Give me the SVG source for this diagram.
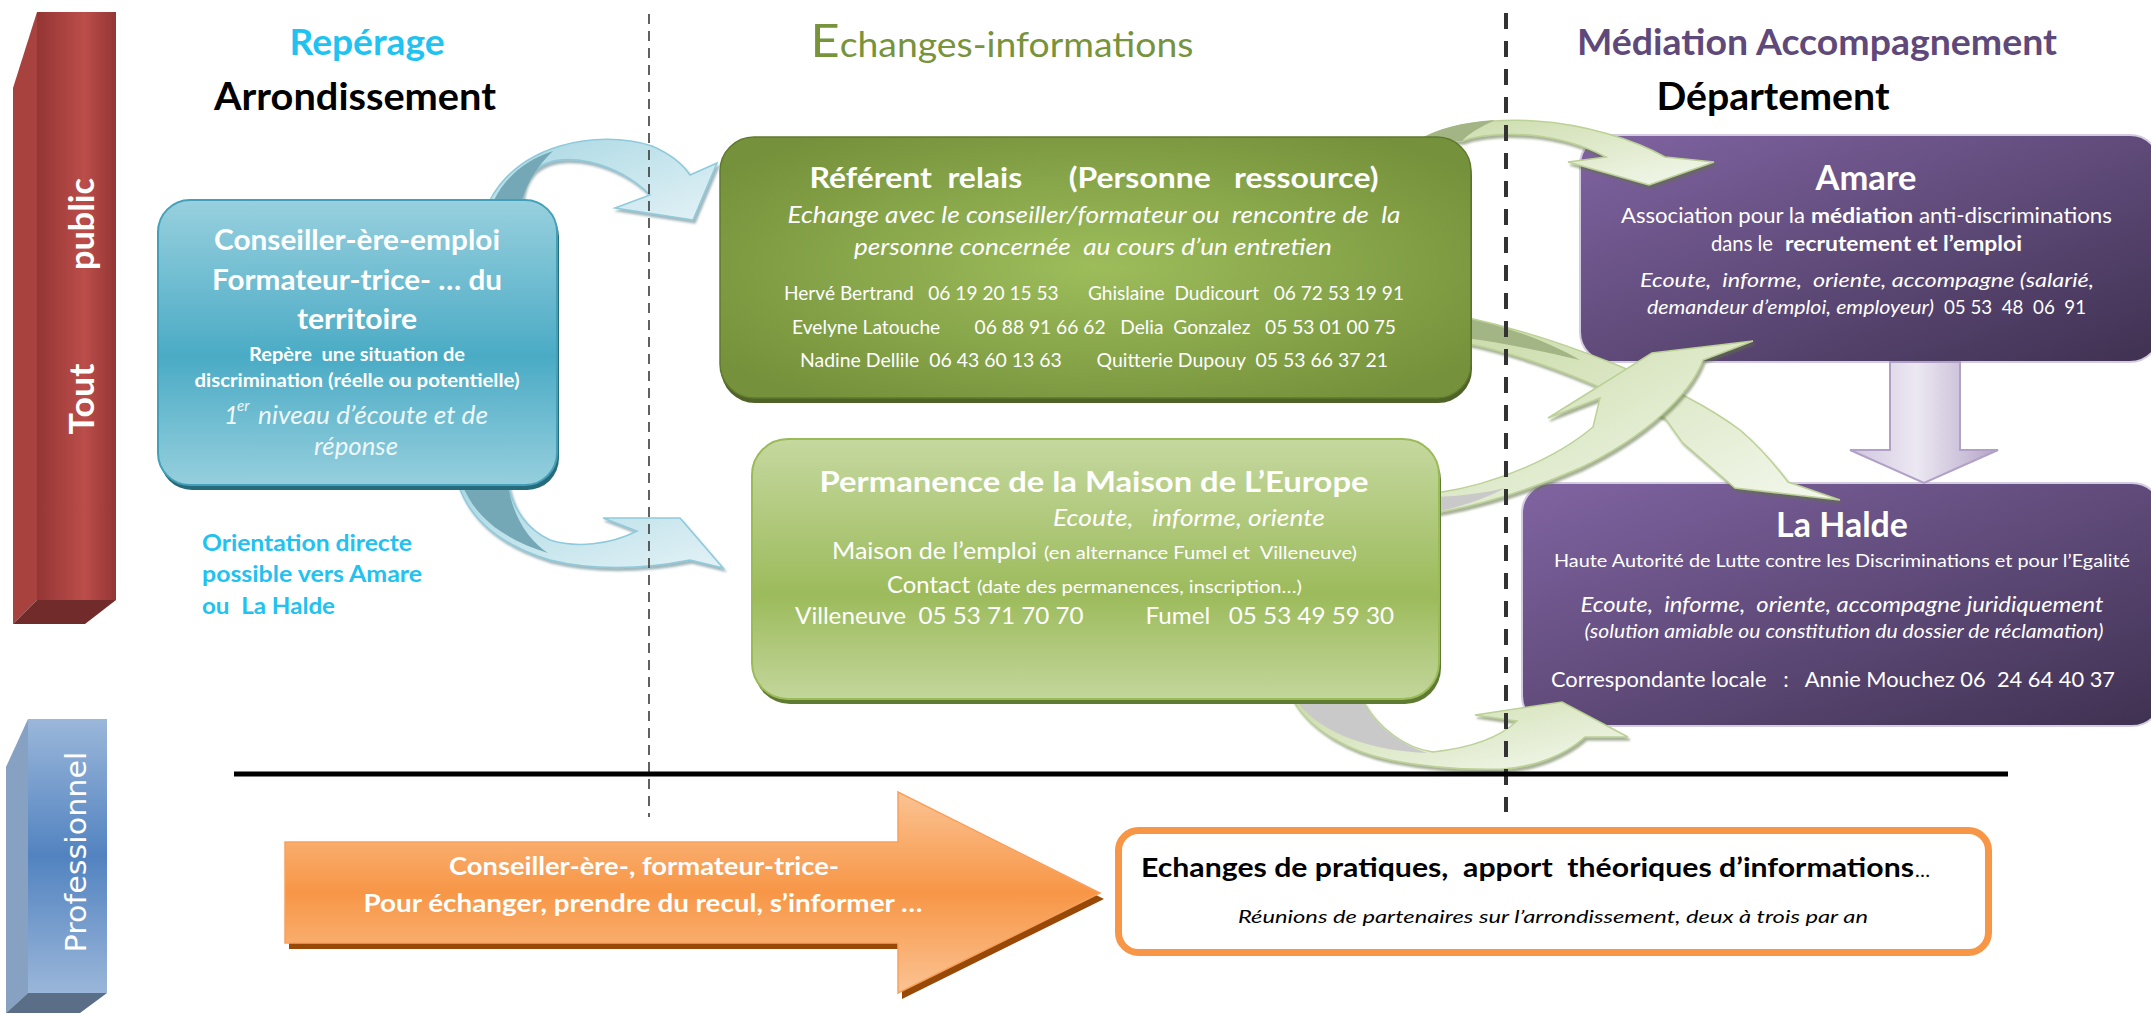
<svg xmlns="http://www.w3.org/2000/svg" width="2151" height="1014" viewBox="0 0 2151 1014">
<style>
text{font-family:Lato,"Liberation Sans",sans-serif;white-space:pre}
.b{font-weight:700}
.i{font-style:italic}
.m{text-anchor:middle}
.w{fill:#fff}
.ga{fill:url(#gGreenArrow);stroke:#bcd196;stroke-width:1.5;filter:url(#ash)}
.ca{fill:url(#gCyanArrow);stroke:#8ecadb;stroke-width:1.5;filter:url(#csh)}
.gp{fill:#a3b585}
.gy{fill:#c9c9c9}
.cp{fill:#74a8b6}
.pb{fill:url(#gPurple);stroke:#d3cbe0;stroke-width:2}
</style>
<defs>
<linearGradient id="gCyanBox" x1="0" y1="0" x2="0" y2="1"><stop offset="0" stop-color="#98d0de"/><stop offset="0.55" stop-color="#4aabc5"/><stop offset="1" stop-color="#96cfdd"/></linearGradient>
<radialGradient id="gDarkGreen" cx="0.5" cy="0.5" r="0.62"><stop offset="0" stop-color="#9dbd5b"/><stop offset="1" stop-color="#75913b"/></radialGradient>
<linearGradient id="gLightGreen" x1="0" y1="0" x2="0" y2="1"><stop offset="0" stop-color="#c5d89f"/><stop offset="0.6" stop-color="#9cbb5b"/><stop offset="1" stop-color="#c3d69b"/></linearGradient>
<linearGradient id="gPurple" x1="0" y1="0" x2="1" y2="1"><stop offset="0" stop-color="#8064a2"/><stop offset="1" stop-color="#3f3151"/></linearGradient>
<linearGradient id="gOrange" x1="0" y1="0" x2="0" y2="1"><stop offset="0" stop-color="#fbc393"/><stop offset="0.5" stop-color="#f79646"/><stop offset="1" stop-color="#fbc393"/></linearGradient>
<linearGradient id="gRedFront" x1="0" y1="0" x2="1" y2="0"><stop offset="0" stop-color="#943634"/><stop offset="0.6" stop-color="#bb4d4a"/><stop offset="1" stop-color="#943634"/></linearGradient>
<linearGradient id="gBlueFront" x1="0" y1="0" x2="0" y2="1"><stop offset="0" stop-color="#9bb7da"/><stop offset="0.5" stop-color="#5283c0"/><stop offset="1" stop-color="#9ab6d9"/></linearGradient>
<linearGradient id="gGreenArrow" x1="0" y1="0" x2="1" y2="1"><stop offset="0" stop-color="#cadba8"/><stop offset="1" stop-color="#f4f8ee"/></linearGradient>
<linearGradient id="gCyanArrow" x1="0" y1="0" x2="1" y2="1"><stop offset="0" stop-color="#a8d7e3"/><stop offset="1" stop-color="#e3f2f6"/></linearGradient>
<linearGradient id="gLilac" x1="0" y1="0" x2="1" y2="0"><stop offset="0" stop-color="#cfc5de"/><stop offset="0.45" stop-color="#ece8f2"/><stop offset="1" stop-color="#b4a4c8"/></linearGradient>
<filter id="ash" x="-10%" y="-10%" width="125%" height="135%"><feDropShadow dx="2" dy="3" stdDeviation="1" flood-color="#5f6f45" flood-opacity="0.55"/></filter>
<filter id="csh" x="-10%" y="-10%" width="125%" height="135%"><feDropShadow dx="2" dy="3" stdDeviation="1" flood-color="#3f6f7c" flood-opacity="0.5"/></filter>
</defs>

<g id="bar-tout-public">
<polygon points="13,88 37,12 37,600 13,624" fill="#a7423f"/>
<rect x="37" y="12" width="79" height="588" fill="url(#gRedFront)"/>
<polygon points="13,624 85,624 116,600 37,600" fill="#702b2a"/>
<text transform="translate(94,399) rotate(-90)" class="b m w" font-size="34" textLength="71" lengthAdjust="spacingAndGlyphs">Tout</text>
<text transform="translate(94,224) rotate(-90)" class="b m w" font-size="34" textLength="92" lengthAdjust="spacingAndGlyphs">public</text>
</g>

<g id="bar-professionnel">
<polygon points="6,767 28,719 28,993 6,1013" fill="#86a1c1"/>
<rect x="28" y="719" width="79" height="274" fill="url(#gBlueFront)"/>
<polygon points="6,1013 80,1013 107,993 28,993" fill="#5b6e87"/>
<text transform="translate(86,852) rotate(-90)" class="m w" style="font-family:'DejaVu Sans',sans-serif" font-size="29" textLength="201" lengthAdjust="spacingAndGlyphs">Professionnel</text>
</g>

<g id="headers">
<text x="367" y="55" class="b m" fill="#1fc3f1" font-size="36" textLength="155" lengthAdjust="spacingAndGlyphs">Repérage</text>
<text x="355" y="110" class="b m" fill="#000" font-size="38" textLength="282" lengthAdjust="spacingAndGlyphs">Arrondissement</text>
<text x="1002" y="57" class="m" fill="#77933c" font-size="34" textLength="383" lengthAdjust="spacingAndGlyphs"><tspan font-size="46">E</tspan>changes-informations</text>
<text x="1817" y="55" class="b m" fill="#5f497a" font-size="36" textLength="480" lengthAdjust="spacingAndGlyphs">Médiation Accompagnement</text>
<text x="1773" y="110" class="b m" fill="#000" font-size="38" textLength="233" lengthAdjust="spacingAndGlyphs">Département</text>
</g>

<g id="node-amare">
<rect x="1580" y="135" width="580" height="227" rx="30" class="pb"/>
<text x="1866" y="190" class="b m w" font-size="34" textLength="101" lengthAdjust="spacingAndGlyphs">Amare</text>
<text x="1621" y="223" class="w" font-size="21" textLength="184" lengthAdjust="spacingAndGlyphs">Association pour la</text>
<text x="1811" y="223" class="w b" font-size="21" textLength="102" lengthAdjust="spacingAndGlyphs">médiation</text>
<text x="1919" y="223" class="w" font-size="21" textLength="193" lengthAdjust="spacingAndGlyphs">anti-discriminations</text>
<text x="1711" y="251" class="w" font-size="21" textLength="62" lengthAdjust="spacingAndGlyphs">dans le</text>
<text x="1785" y="251" class="w b" font-size="21" textLength="237" lengthAdjust="spacingAndGlyphs">recrutement et l’emploi</text>
<text x="1640" y="287" class="w i" font-size="20" textLength="454" lengthAdjust="spacingAndGlyphs">Ecoute,  informe,  oriente, accompagne (salarié,</text>
<text x="1647" y="314" class="w i" font-size="20" textLength="287" lengthAdjust="spacingAndGlyphs">demandeur d’emploi, employeur)</text>
<text x="1944" y="314" class="w" font-size="20" textLength="142" lengthAdjust="spacingAndGlyphs">05 53  48  06  91</text>
</g>

<g id="node-la-halde">
<rect x="1522" y="483" width="640" height="243" rx="30" class="pb"/>
<text x="1842" y="537" class="b m w" font-size="34" textLength="132" lengthAdjust="spacingAndGlyphs">La Halde</text>
<text x="1842" y="567" class="m w" font-size="18" textLength="576" lengthAdjust="spacingAndGlyphs">Haute Autorité de Lutte contre les Discriminations et pour l’Egalité</text>
<text x="1842" y="612" class="m w i" font-size="22" textLength="523" lengthAdjust="spacingAndGlyphs">Ecoute,  informe,  oriente, accompagne juridiquement</text>
<text x="1844" y="638" class="m w i" font-size="19" textLength="519" lengthAdjust="spacingAndGlyphs">(solution amiable ou constitution du dossier de réclamation)</text>
<text x="1551" y="687" class="w" font-size="22" textLength="564" lengthAdjust="spacingAndGlyphs">Correspondante locale   :   Annie Mouchez 06  24 64 40 37</text>
</g>

<g id="connectors">
<g id="arrow-conseiller-referent">
<path class="ca" d="M490,200 C505,172 530,155 560,146 C590,137 625,137 652,146 C668,153 682,163 690,175 L717,163 L693,220 L615,208 L650,195 C635,180 615,168 590,162 C565,157 545,160 533,172 C526,180 523,190 522,200 Z"/>
<path class="cp" d="M494,200 C505,178 525,160 553,151 C540,163 528,180 522,200 Z"/>
</g>
<g id="arrow-conseiller-permanence">
<path class="ca" d="M458,484 C470,520 500,545 550,560 C590,570 640,570 690,560 L723,568 L680,518 L603,518 L637,531 C610,545 575,548 550,540 C528,530 513,510 508,484 Z"/>
<path class="cp" d="M462,484 C474,515 500,538 548,553 C528,540 512,515 508,484 Z"/>
</g>
<g id="arrow-referent-amare">
<path class="ga" d="M1418,141 C1440,126 1490,118 1535,121 C1585,124 1635,140 1665,157 L1714,162 L1649,185 L1568,162 L1606,157 C1585,146 1560,138 1530,135 C1500,133 1478,135 1462,141 Z"/>
<path class="gp" d="M1418,141 C1436,129 1462,122 1495,120 C1480,127 1468,134 1462,141 Z"/>
</g>
<g id="arrow-referent-lahalde">
<path class="ga" d="M1465,317 C1560,338 1680,385 1740,430 C1760,447 1775,465 1788,482 L1840,500 L1735,488 L1682,442 L1665,418 C1600,385 1530,356 1465,343 Z"/>
<path class="gp" d="M1465,318 C1505,326 1545,340 1580,360 C1545,352 1505,343 1465,338 Z"/>
</g>
<g id="arrow-permanence-lahalde">
<path class="ga" d="M1293,700 C1310,730 1350,752 1390,760 C1430,768 1470,770 1503,769 C1535,767 1565,755 1585,737 L1628,737 L1562,702 L1475,715 L1517,721 C1500,737 1470,748 1433,752 C1405,748 1378,728 1362,700 Z"/>
<path class="gy" d="M1296,700 C1315,728 1360,750 1427,753 C1395,742 1372,722 1362,700 Z"/>
</g>
<g id="arrow-permanence-amare">
<path class="ga" d="M1436,493 C1500,484 1560,455 1593,427 L1600,398 L1548,418 L1652,353 L1753,341 L1703,360 C1690,395 1645,437 1580,468 C1530,490 1480,505 1436,513 Z"/>
<path class="gy" d="M1436,497 C1460,496 1485,493 1505,488 C1485,499 1460,507 1436,512 Z"/>
</g>
<g id="arrow-amare-lahalde">
<polygon points="1890,362 1960,362 1960,450 1998,450 1924,483 1850,450 1890,450" fill="url(#gLilac)" stroke="#b2a1c7" stroke-width="2"/>
</g>
</g>

<g id="guides">
<line x1="649" y1="14" x2="649" y2="817" stroke="#3a3a3a" stroke-width="1.6" stroke-dasharray="10 7"/>
<line x1="1506" y1="13" x2="1506" y2="812" stroke="#333" stroke-width="4" stroke-dasharray="16 12"/>
<line x1="234" y1="774" x2="2008" y2="774" stroke="#000" stroke-width="5"/>
</g>

<g id="node-conseiller">
<rect x="160" y="205" width="399" height="285" rx="32" fill="#256b7c"/>
<rect x="158" y="200" width="399" height="285" rx="32" fill="url(#gCyanBox)" stroke="#44a0b8" stroke-width="2"/>
<text x="357" y="250" class="b m w" font-size="28" textLength="286" lengthAdjust="spacingAndGlyphs">Conseiller-ère-emploi</text>
<text x="357" y="290" class="b m w" font-size="28" textLength="290" lengthAdjust="spacingAndGlyphs">Formateur-trice- … du</text>
<text x="357" y="329" class="b m w" font-size="28" textLength="120" lengthAdjust="spacingAndGlyphs">territoire</text>
<text x="357" y="361" class="b m w" font-size="18" textLength="216" lengthAdjust="spacingAndGlyphs">Repère  une situation de</text>
<text x="357" y="387" class="b m w" font-size="18" textLength="325" lengthAdjust="spacingAndGlyphs">discrimination (réelle ou potentielle)</text>
<text x="224" y="424" class="i" fill="#eef7fa" font-size="25">1</text>
<text x="237" y="411" class="i" fill="#eef7fa" font-size="15">er</text>
<text x="258" y="424" class="i" fill="#eef7fa" font-size="25" textLength="230" lengthAdjust="spacingAndGlyphs">niveau d’écoute et de</text>
<text x="356" y="455" class="i m" fill="#eef7fa" font-size="25" textLength="84" lengthAdjust="spacingAndGlyphs">réponse</text>
</g>

<g id="note-orientation">
<text x="202" y="551" class="b" fill="#22c1f0" font-size="22" textLength="210" lengthAdjust="spacingAndGlyphs">Orientation directe</text>
<text x="202" y="582" class="b" fill="#22c1f0" font-size="22" textLength="220" lengthAdjust="spacingAndGlyphs">possible vers Amare</text>
<text x="202" y="614" class="b" fill="#22c1f0" font-size="22" textLength="133" lengthAdjust="spacingAndGlyphs">ou  La Halde</text>
</g>

<g id="node-referent">
<rect x="721" y="142" width="751" height="261" rx="34" fill="#4f6228"/>
<rect x="720" y="137" width="751" height="261" rx="34" fill="url(#gDarkGreen)" stroke="#5f7a2e" stroke-width="1.5"/>
<text x="1094" y="188" class="b m w" font-size="29" textLength="569" lengthAdjust="spacingAndGlyphs">Référent  relais      (Personne   ressource)</text>
<text x="1094" y="223" class="i m w" font-size="23" textLength="613" lengthAdjust="spacingAndGlyphs">Echange avec le conseiller/formateur ou  rencontre de  la</text>
<text x="1093" y="255" class="i m w" font-size="23" textLength="478" lengthAdjust="spacingAndGlyphs">personne concernée  au cours d’un entretien</text>
<text x="784" y="300" class="w" font-size="19" textLength="620" lengthAdjust="spacingAndGlyphs">Hervé Bertrand   06 19 20 15 53      Ghislaine  Dudicourt   06 72 53 19 91</text>
<text x="792" y="334" class="w" font-size="19" textLength="604" lengthAdjust="spacingAndGlyphs">Evelyne Latouche       06 88 91 66 62   Delia  Gonzalez   05 53 01 00 75</text>
<text x="800" y="367" class="w" font-size="19" textLength="588" lengthAdjust="spacingAndGlyphs">Nadine Dellile  06 43 60 13 63       Quitterie Dupouy  05 53 66 37 21</text>
</g>

<g id="node-permanence">
<rect x="754" y="444" width="687" height="260" rx="36" fill="#5f7a32"/>
<rect x="752" y="439" width="687" height="260" rx="36" fill="url(#gLightGreen)" stroke="#9bbb59" stroke-width="2"/>
<text x="1094" y="492" class="b m w" font-size="29" textLength="549" lengthAdjust="spacingAndGlyphs">Permanence de la Maison de L’Europe</text>
<text x="1053" y="526" class="i w" font-size="23" textLength="272" lengthAdjust="spacingAndGlyphs">Ecoute,   informe, oriente</text>
<text x="832" y="559" class="w" font-size="24" textLength="205" lengthAdjust="spacingAndGlyphs">Maison de l’emploi</text>
<text x="1044" y="559" class="w" font-size="18" textLength="313" lengthAdjust="spacingAndGlyphs">(en alternance Fumel et  Villeneuve)</text>
<text x="887" y="593" class="w" font-size="24" textLength="83" lengthAdjust="spacingAndGlyphs">Contact</text>
<text x="977" y="593" class="w" font-size="18" textLength="325" lengthAdjust="spacingAndGlyphs">(date des permanences, inscription…)</text>
<text x="795" y="624" class="w" font-size="24" textLength="599" lengthAdjust="spacingAndGlyphs">Villeneuve  05 53 71 70 70          Fumel   05 53 49 59 30</text>
</g>

<g id="node-professionnel-arrow">
<polygon points="289,848 902,848 902,798 1104,899 902,999 902,949 289,949" fill="#984807"/>
<polygon points="285,842 898,842 898,792 1100,893 898,993 898,943 285,943" fill="url(#gOrange)" stroke="#f8a15f" stroke-width="1.5"/>
<text x="644" y="875" class="b m w" font-size="24" textLength="390" lengthAdjust="spacingAndGlyphs">Conseiller-ère-, formateur-trice-</text>
<text x="643" y="912" class="b m w" font-size="24" textLength="559" lengthAdjust="spacingAndGlyphs">Pour échanger, prendre du recul, s’informer …</text>
</g>

<g id="node-echanges-pratiques">
<rect x="1118.5" y="830.5" width="870" height="122" rx="20" fill="#fff" stroke="#f79646" stroke-width="7"/>
<text x="1141" y="877" class="b" fill="#000" font-size="26" textLength="773" lengthAdjust="spacingAndGlyphs">Echanges de pratiques,  apport  théoriques d’informations</text>
<text x="1915" y="877" fill="#000" font-size="20">…</text>
<text x="1553" y="923" class="i m" fill="#000" font-size="18" textLength="630" lengthAdjust="spacingAndGlyphs">Réunions de partenaires sur l’arrondissement, deux à trois par an</text>
</g>
</svg>
